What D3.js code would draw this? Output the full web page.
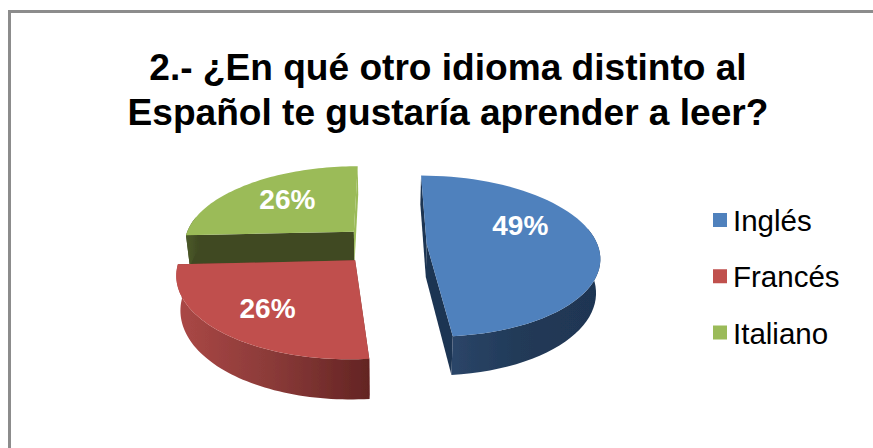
<!DOCTYPE html>
<html>
<head>
<meta charset="utf-8">
<script src="https://cdn.jsdelivr.net/npm/d3@7"></script>
<style>
  html, body { margin: 0; padding: 0; background: #fff; }
  svg { display: block; }
  text { font-family: "Liberation Sans", Arial, sans-serif; }
</style>
</head>
<body>
<div id="pie"></div>
<script>
const categories = ["Inglés", "Francés", "Italiano"];
const values = [49, 26, 26];
const titleLines = ["2.- ¿En qué otro idioma distinto al", "Español te gustaría aprender a leer?"];
const topColors = ["#4f81bd", "#c0504d", "#9bbb59"];

const width = 873, height = 448;

// fake 3D: ground plane is X right, Y toward the viewer, radius 1
const cx = 384, cy = 245, rx = 171, ry = 79;
const persp = 0.15, depth = 33, bottomScale = 0.98, explode = 0.25;

const svg = d3.select("#pie").append("svg")
    .attr("width", width)
    .attr("height", height);

const defs = svg.append("defs");
const addGradient = (id, stops) => {
    const g = defs.append("linearGradient").attr("id", id);
    stops.forEach(s => g.append("stop").attr("offset", s[0]).attr("stop-color", s[1]));
};
addGradient("wall0", [[0, "#2b4568"], [0.45, "#213a58"], [1, "#1f3552"]]);
addGradient("wall1", [[0, "#ab4846"], [0.5, "#8a3a38"], [1, "#632423"]]);
addGradient("wall2", [[0, "#4c5a2a"], [1, "#3f4a22"]]);
const cutColors = ["#1f3552", "#7a302e", "#3f4a21"];

// the source picture is a bit soft
defs.append("filter").attr("id", "soft")
    .append("feGaussianBlur").attr("stdDeviation", 0.5);

// frame, only the top and left sides show in the picture
svg.append("path")
    .attr("d", "M9.5," + height + "V11.5H" + width)
    .attr("fill", "none")
    .attr("stroke", "#8c8c8c")
    .attr("stroke-width", 3);

svg.append("g").selectAll("text").data(titleLines).join("text")
    .attr("x", 448)
    .attr("y", (d, i) => 80 + i * 45)
    .attr("text-anchor", "middle")
    .attr("font-size", 37.1)
    .attr("font-weight", "bold")
    .attr("fill", "#000")
    .text(d => d);

const pie = d3.pie().value(d => d).sort(null);
const arcs = pie(values);

// project a ground point, z=0 is the top face and z=1 the bottom face
const project = (X, Y, z) => {
    const w = 1 / (1 - persp * Y);
    const s = z ? bottomScale : 1;
    return [cx + rx * X * w * s, cy + ry * Y * w + z * depth * w];
};

const line = d3.line();

const sliceGeom = d => {
    const mid = (d.startAngle + d.endAngle) / 2;
    const ox = explode * Math.sin(mid), oy = -explode * Math.cos(mid);
    const at = (a, r, z) => project(ox + r * Math.sin(a), oy - r * Math.cos(a), z);
    const angles = d3.range(0, 61).map(k => d.startAngle + (d.endAngle - d.startAngle) * k / 60);
    const rim = (z, list) => (list || angles).map(a => at(a, 1, z));
    return {mid, at, rim, angles};
};

const drawSlice = (g, d, i) => {
    const s = sliceGeom(d);
    const cut = a => [s.at(a, 0, 0), s.at(a, 1, 0), s.at(a, 1, 1), s.at(a, 0, 1)];
    g.append("path").attr("d", line(cut(d.startAngle)) + "Z").attr("fill", cutColors[i]);
    g.append("path").attr("d", line(cut(d.endAngle)) + "Z").attr("fill", i === 2 ? topColors[2] : cutColors[i]);
    // only the part of the rim that faces the viewer
    const front = s.angles.filter(a => Math.cos(a) < 0.2);
    if (front.length > 1) {
        g.append("path")
            .attr("d", line(s.rim(0, front).concat(s.rim(1, front).reverse())) + "Z")
            .attr("fill", "url(#wall" + i + ")");
    }
    g.append("path")
        .attr("d", line([s.at(0, 0, 0)].concat(s.rim(0))) + "Z")
        .attr("fill", topColors[i]);
};

// green sits behind, then blue, red is in front
const order = [2, 0, 1];
const chart = svg.append("g").attr("filter", "url(#soft)");
order.forEach(i => drawSlice(chart.append("g"), arcs[i], i));

// data labels were moved by hand in the original
const labelShift = [[-8, -17], [-11, 7], [0, -3]];
svg.append("g").selectAll("text").data(arcs).join("text")
    .attr("x", (d, i) => sliceGeom(d).at(sliceGeom(d).mid, 0.6, 0)[0] + labelShift[i][0])
    .attr("y", (d, i) => sliceGeom(d).at(sliceGeom(d).mid, 0.6, 0)[1] + labelShift[i][1] + 10)
    .attr("text-anchor", "middle")
    .attr("font-size", 28)
    .attr("font-weight", "bold")
    .attr("fill", "#fff")
    .text(d => d.data + "%");

// legend
const legendY = d3.scalePoint().domain(categories).range([220, 332.5]);
const legend = svg.append("g").selectAll("g").data(categories).join("g")
    .attr("transform", d => "translate(713," + legendY(d) + ")");
legend.append("rect")
    .attr("y", -7)
    .attr("width", 14)
    .attr("height", 14)
    .attr("fill", (d, i) => topColors[i]);
legend.append("text")
    .attr("x", 20)
    .attr("y", 11)
    .attr("font-size", 29.5)
    .attr("fill", "#000")
    .text(d => d);
</script>
</body>
</html>
